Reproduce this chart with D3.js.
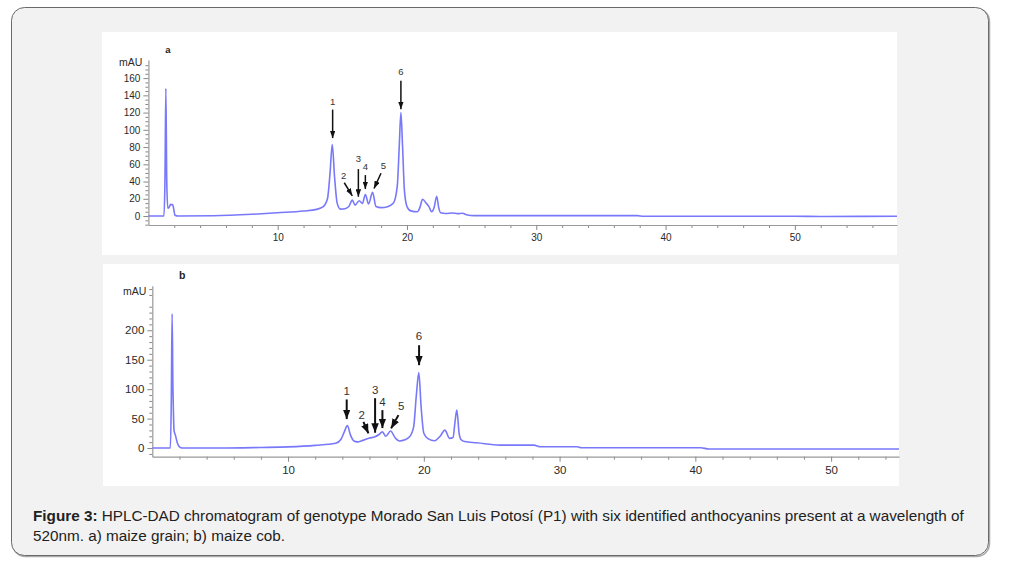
<!DOCTYPE html>
<html><head><meta charset="utf-8">
<script src="https://cdn.jsdelivr.net/npm/d3@7/dist/d3.min.js"></script>
<style>
body{margin:0;background:#fff;}
svg{display:block;font-family:"Liberation Sans",Arial,Helvetica,sans-serif;}
</style>
</head><body>
<svg id="c" width="1011" height="565"></svg>
<script>
// ---------- DATA ----------
// Panel a: maize grain (retention time, min / absorbance, mAU)
const timeA = [0,1.2,1.28,1.35,1.42,1.5,1.6,1.72,1.88,1.96,2.05,2.3,5,8,10,12,13,13.5,13.85,14.05,14.22,14.4,14.6,14.85,15.2,15.5,15.77,15.98,16.31,16.55,16.78,17.03,17.34,17.6,18.0,18.5,18.95,19.25,19.4,19.53,19.66,19.8,20.0,20.3,20.8,21.0,21.2,21.5,21.7,21.9,22.1,22.3,22.45,22.6,23.0,23.5,23.9,24.3,24.6,25.2,30,37.8,38.3,45,50,52,57.9];
const mauA  = [0,0,40,148,40,9,10,13.5,13,8,1,0,0.3,2,3.8,5.8,7.7,10.5,20,50,83,45,15,8,8.5,11,18.5,12.7,17.8,14.5,25,14,27.5,11,9.7,10.8,15,35,80,120,80,30,11,6,5,10,19.4,14.7,11,5,10,23,10,3.8,3,3.5,2.8,3.2,1.5,0.5,0.5,0.5,-0.3,-0.3,-0.2,-0.5,-0.3];
// Panel b: maize cob
const timeB = [0,1.33,1.4,1.46,1.52,1.56,1.6,1.7,1.84,2.0,2.2,5,8,10,12,13.5,13.9,14.15,14.37,14.6,14.85,15.1,15.5,16.0,16.4,16.7,16.95,17.2,17.55,17.9,18.2,18.6,18.95,19.25,19.45,19.63,19.8,20.0,20.3,20.8,21.2,21.55,21.9,22.15,22.3,22.43,22.6,22.75,23.0,23.9,25.6,28.1,28.6,31.3,31.6,40.4,41,55];
const mauB  = [0,0,80,228,100,58,30,22,9,2,0,0,1,2,4.5,8,15,28,38,22,12,10.5,13,17,19,23,27.5,20,29,17,12,14,19,36,90,128,70,25,16,12.5,20,30.5,16.5,18,45,64.5,25,14,11,9,5,5,2.3,2.3,0.6,0.6,-1.7,-1.7];

const xTickLabels = [10,20,30,40,50];
const yTickLabelsA = [0,20,40,60,80,100,120,140,160];
const yTickLabelsB = [0,50,100,150,200];
const peakNames = ["1","2","3","4","5","6"];

// Peak annotations (data units): label position and arrow start/end
const labelTA = [14.25,15.11,16.24,16.78,18.17,19.53];
const labelVA = [133,46.7,66,56.7,58.3,167];
const fromTA  = [14.25,15.15,16.24,16.78,17.99,19.53];
const fromVA  = [123.5,38.6,54.5,47.5,49.7,157];
const toTA    = [14.25,15.77,16.24,16.78,17.45,19.53];
const toVA    = [90.4,23.5,22.4,31.3,31.9,124];

const labelTB = [14.32,15.43,16.41,16.95,18.33,19.65];
const labelVB = [96.6,57,98.3,77.5,71.2,189.8];
const fromTB  = [14.32,15.55,16.41,16.95,18.13,19.65];
const fromVB  = [82.5,44.6,84.7,64.4,55.9,174.6];
const toTB    = [14.32,15.92,16.41,16.95,17.59,19.65];
const toVB    = [49.2,24.9,26,33.9,33.4,140.7];

const captionBold = "Figure 3:";
const captionLine1 = " HPLC-DAD chromatogram of genotype Morado San Luis Potosí (P1) with six identified anthocyanins present at a wavelength of";
const captionLine2 = "520nm. a) maize grain; b) maize cob.";

// ---------- DRAW ----------
const svg = d3.select("#c");

// card
svg.append("rect").attr("x",12.5).attr("y",8.5).attr("width",977).attr("height",548)
  .attr("rx",13).attr("fill","none").attr("stroke","#aaa").attr("stroke-width",1.5);
svg.append("rect").attr("x",11.5).attr("y",7.5).attr("width",977).attr("height",548)
  .attr("rx",13).attr("fill","#f2f2f2").attr("stroke","#6a6a6a").attr("stroke-width",1);

const defs = svg.append("defs");
function marker(id, w, l){
  defs.append("marker").attr("id",id).attr("markerUnits","userSpaceOnUse")
    .attr("viewBox",`0 0 ${l} ${w}`).attr("refX",l).attr("refY",w/2)
    .attr("markerWidth",l).attr("markerHeight",w).attr("orient","auto")
    .append("path").attr("d",`M0,0L${l},${w/2}L0,${w}Z`).attr("fill","#111");
}
marker("headA",5.5,7.5);
marker("headB",7.5,9.5);

function drawPanel(p){
  const g = svg.append("g");
  g.append("rect").attr("x",p.box[0]).attr("y",p.box[1]).attr("width",p.box[2]).attr("height",p.box[3]).attr("fill","#fff");

  const x = d3.scaleLinear().domain(p.xDomain).range(p.xRange);
  const y = d3.scaleLinear().domain(p.yDomain).range(p.yRange);

  // minor x ticks
  const xMinor = d3.range(2, p.xDomain[1], 2).filter(v=>v%10!==0);
  g.append("g").attr("transform",`translate(0,${p.yRange[0]})`)
    .call(d3.axisBottom(x).tickValues(xMinor).tickSize(3).tickFormat("").tickSizeOuter(0))
    .call(s=>s.select(".domain").remove());
  const xa = g.append("g").attr("transform",`translate(0,${p.yRange[0]})`)
    .call(d3.axisBottom(x).tickValues(p.xTicks).tickSize(5).tickSizeOuter(0).tickPadding(4));
  xa.selectAll("text").attr("font-size",p.tickFont).attr("fill","#2a2a2a");

  // minor y ticks
  const yMinor = d3.range(Math.ceil(p.yDomain[0]/p.yMinorStep)*p.yMinorStep, p.yDomain[1], p.yMinorStep)
    .filter(v=>Math.abs(v % p.yMajorStep) > 1e-9);
  g.append("g").attr("transform",`translate(${p.xRange[0]},0)`)
    .call(d3.axisLeft(y).tickValues(yMinor).tickSize(3).tickFormat("").tickSizeOuter(0))
    .call(s=>s.select(".domain").remove());
  const ya = g.append("g").attr("transform",`translate(${p.xRange[0]},0)`)
    .call(d3.axisLeft(y).tickValues(p.yTicks).tickSize(5).tickSizeOuter(0).tickPadding(3));
  ya.selectAll("text").attr("font-size",p.tickFont).attr("fill","#2a2a2a");

  g.selectAll(".tick line").attr("stroke","#888");
  g.selectAll(".domain").attr("stroke","#999").attr("stroke-width",1.2);

  g.append("text").attr("x",p.xRange[0]-6).attr("y",y(p.mauAt)).attr("dy","0.35em")
    .attr("text-anchor","end").attr("font-size",p.mauFont).attr("fill","#2a2a2a").text("mAU");
  g.append("text").attr("x",x(p.letterT)).attr("y",p.box[1]+p.letterDy).attr("font-size",p.letterFont)
    .attr("font-weight","bold").attr("fill","#222").attr("text-anchor","middle").text(p.letter);

  // trace
  const pts = p.t.map((t,i)=>[t,p.v[i]]);
  const line = d3.line().x(d=>x(d[0])).y(d=>y(d[1])).curve(d3.curveMonotoneX);
  g.append("path").datum(pts).attr("d",line).attr("fill","none")
    .attr("stroke","#7878fb").attr("stroke-width",1.6).attr("stroke-linejoin","round");

  // annotations
  peakNames.forEach((nm,i)=>{
    g.append("line").attr("x1",x(p.fromT[i])).attr("y1",y(p.fromV[i]))
      .attr("x2",x(p.toT[i])).attr("y2",y(p.toV[i]))
      .attr("stroke","#111").attr("stroke-width",p.arrowW).attr("marker-end",`url(#${p.head})`);
    g.append("text").attr("x",x(p.labelT[i])).attr("y",y(p.labelV[i])).attr("dy","0.35em")
      .attr("text-anchor","middle").attr("font-size",p.peakFont).attr("fill","#333").text(nm);
  });
}

drawPanel({
  box:[102,32,795,223],
  xDomain:[0,57.9], xRange:[148.4,897],
  yDomain:[-10.4,181], yRange:[225,60],
  xTicks:xTickLabels, yTicks:yTickLabelsA, yMinorStep:5, yMajorStep:20,
  tickFont:"10px", mauFont:"10.5px", mauAt:178,
  letter:"a", letterT:1.5, letterDy:21, letterFont:"9.5px",
  t:timeA, v:mauA,
  labelT:labelTA,labelV:labelVA,fromT:fromTA,fromV:fromVA,toT:toTA,toV:toVA,
  arrowW:1.5, head:"headA", peakFont:"9.5px"
});
drawPanel({
  box:[103,264,796,222],
  xDomain:[0,55.0], xRange:[152.3,899],
  yDomain:[-14.7,275.7], yRange:[456.7,285.7],
  xTicks:xTickLabels, yTicks:yTickLabelsB, yMinorStep:10, yMajorStep:50,
  tickFont:"11.5px", mauFont:"10.5px", mauAt:266,
  letter:"b", letterT:2.2, letterDy:15, letterFont:"10.5px",
  t:timeB, v:mauB,
  labelT:labelTB,labelV:labelVB,fromT:fromTB,fromV:fromVB,toT:toTB,toV:toVB,
  arrowW:2, head:"headB", peakFont:"11.5px"
});

// caption
const cap = svg.append("g").attr("fill","#222");
const l1 = cap.append("text").attr("x",33).attr("y",521).attr("font-size","14px");
l1.append("tspan").attr("font-weight","bold").text(captionBold);
l1.append("tspan").text(captionLine1);
const l2 = cap.append("text").attr("x",33).attr("y",541).attr("font-size","14px").text(captionLine2);
const w = l1.node().getComputedTextLength();
const fs = 14*932/w;
l1.attr("font-size",fs+"px"); l2.attr("font-size",fs+"px");
</script>
</body></html>
